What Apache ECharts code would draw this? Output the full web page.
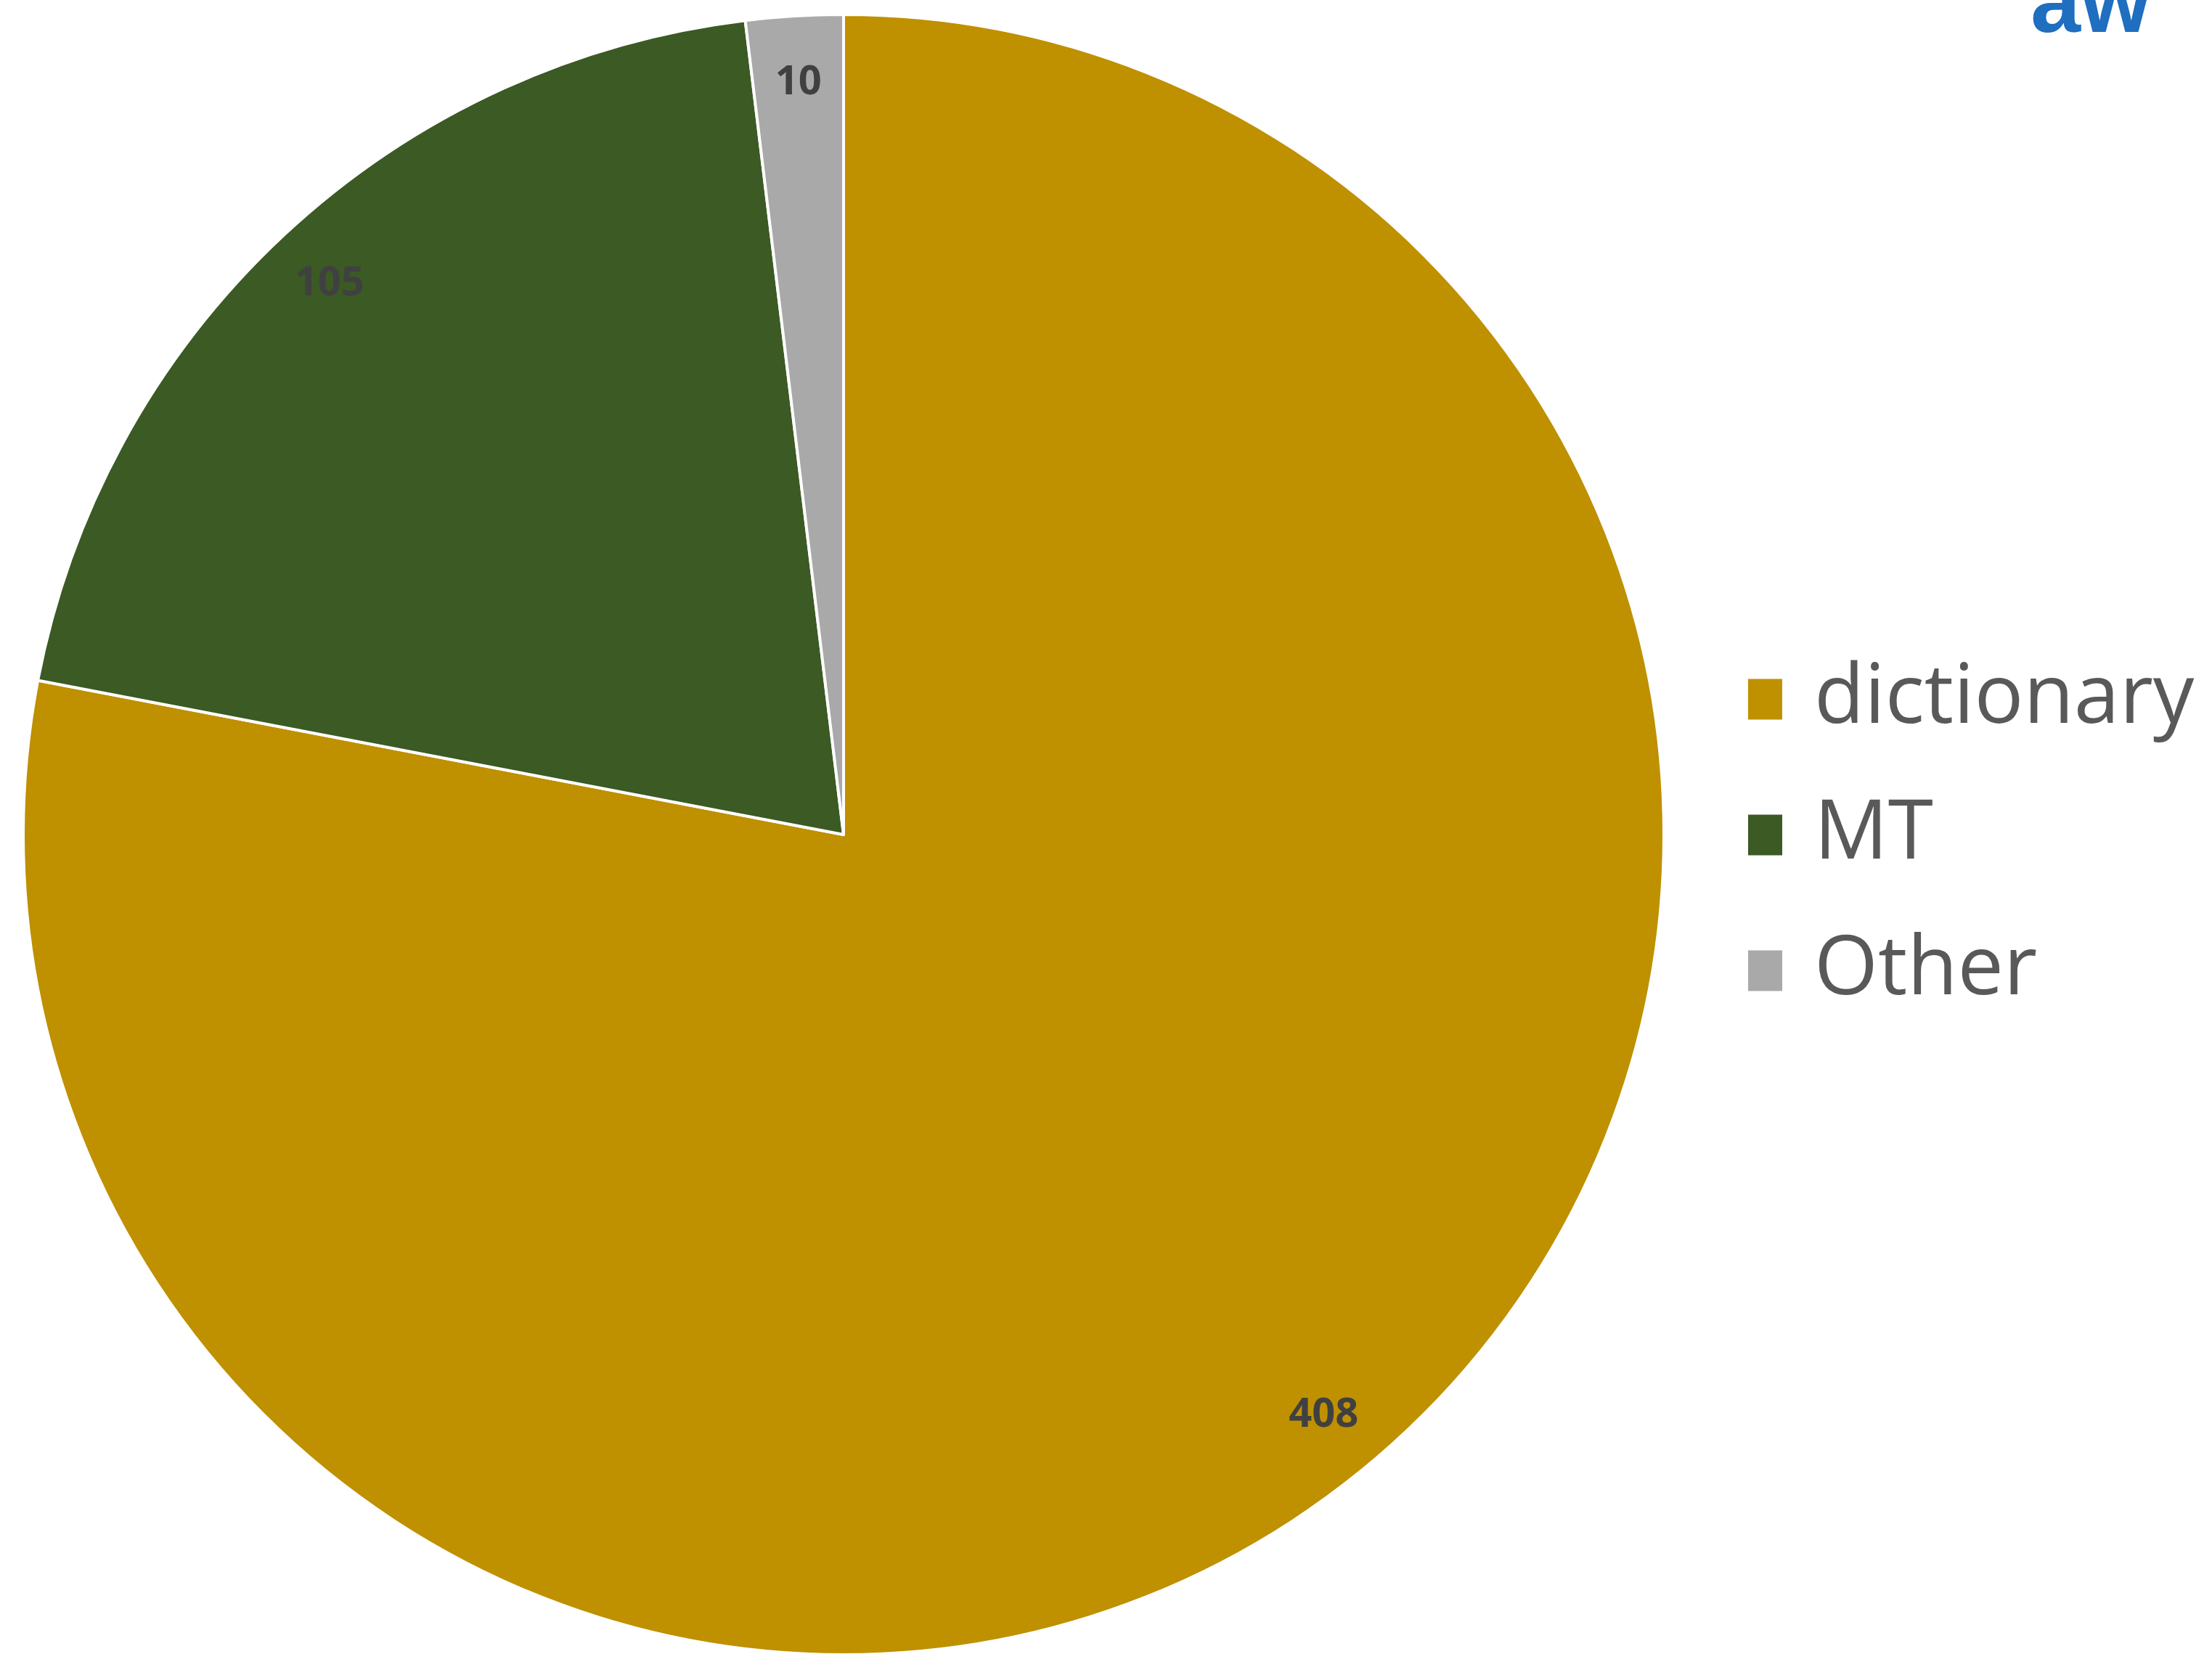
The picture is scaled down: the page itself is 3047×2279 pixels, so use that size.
<!DOCTYPE html>
<html>
<head>
<meta charset="utf-8">
<script src="https://cdn.jsdelivr.net/npm/echarts@6/dist/echarts.min.js"></script>
<style>html,body{margin:0;padding:0;background:#fff;}#c{width:3047px;height:2279px;}</style>
</head>
<body>
<div id="c"></div>
<script>
const categories = ['dictionary', 'MT', 'Other'];
const values = [408, 105, 10];
const colors = ['#BF9000', '#3B5A24', '#A9A9A9'];

const data = categories.map((n, i) => ({ name: n, value: values[i], itemStyle: { color: colors[i] } }));
const labelData = categories.map((n, i) => ({ name: n, value: values[i] }));

const chart = echarts.init(document.getElementById('c'), null, { renderer: 'canvas' });
chart.setOption({
  backgroundColor: '#ffffff',
  animation: false,
  legend: {
    orient: 'vertical',
    left: 2401,
    top: 902,
    data: categories,
    icon: 'rect',
    itemWidth: 49,
    itemHeight: 58,
    itemGap: 74,
    selectedMode: false,
    textStyle: {
      fontFamily: 'Open Sans',
      fontSize: 113,
      color: '#595959',
      padding: [0, 0, 0, 38]
    }
  },
  graphic: [{
    type: 'text',
    left: 2797,
    top: -52,
    style: { text: 'aw', font: 'bold 124px "Liberation Sans"', fill: '#1F6EC0' }
  }],
  series: [
    {
      type: 'pie',
      center: [1162, 1150],
      radius: [0, 1130],
      startAngle: 90,
      clockwise: true,
      avoidLabelOverlap: false,
      label: { show: false },
      labelLine: { show: false },
      emphasis: { disabled: true },
      itemStyle: { borderColor: '#ffffff', borderWidth: 4 },
      data: data
    },
    {
      type: 'pie',
      center: [1162, 1150],
      radius: [1000, 1070],
      startAngle: 90,
      clockwise: true,
      silent: true,
      avoidLabelOverlap: false,
      itemStyle: { color: 'rgba(0,0,0,0)' },
      label: {
        show: true,
        position: 'inside',
        formatter: '{c}',
        fontFamily: 'Open Sans',
        fontWeight: 'bold',
        fontSize: 56,
        color: '#404040'
      },
      labelLine: { show: false },
      emphasis: { disabled: true },
      data: labelData
    }
  ]
});
</script>
</body>
</html>
